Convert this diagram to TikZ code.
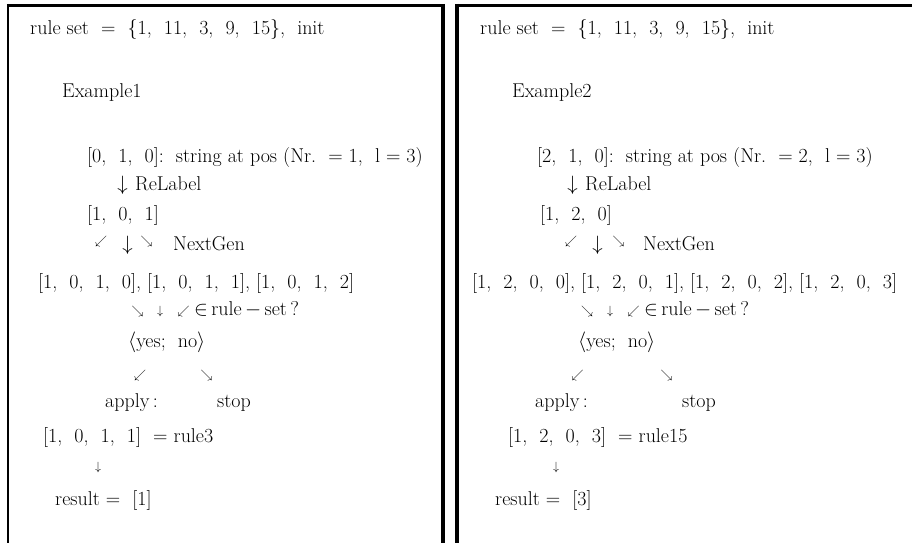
\documentclass[tikz,border=0pt]{standalone}
\usepackage{amssymb}
\tikzset{
  txt/.style={inner sep=0pt, anchor=base west, font=\fontsize{20}{24}\selectfont},
  bigarr/.style={inner sep=0pt, anchor=center, font=\fontsize{20}{24}\selectfont},
  smallarr/.style={inner sep=0pt, anchor=center, font=\fontsize{12.5}{13}\selectfont},
  frame/.style={draw=black}
}
\newcommand{\sw}{$\swarrow$}
\newcommand{\se}{$\searrow$}
\newcommand{\dn}{$\downarrow$}
\begin{document}
\begin{tikzpicture}[x=1pt,y=-1pt]
\useasboundingbox (0,0) rectangle (912,543);
% frames
\draw[frame, line width=2.5pt] (8,4) -- (8,543);
\draw[frame, line width=3pt] (6.75,5.5) -- (444.7,5.5);
\draw[frame, line width=4pt] (442.7,4) -- (442.7,543);
\draw[frame, line width=4pt] (457.3,4) -- (457.3,543);
\draw[frame, line width=3pt] (455.3,5.5) -- (912,5.5);
% ---------- left panel ----------
\node[txt] (Lrs) at (30,34.5) {rule set\ \ =\ \ \{1,\ \ 11,\ \ 3,\ \ 9,\ \ 15\},\ \ init};
\node[txt] (Lex) at (62,97) {Example1};
\node[txt] (Lstr) at (87,162) {[0,\ \ 1,\ \ 0]:\ \ string at pos (Nr.\ \ =\ 1,\ \ l = 3)};
\node[bigarr] (Lrla) at (122.5,185) {\dn};
\node[txt] (Lrl) at (135,190) {ReLabel};
\node[txt] (Lv) at (87,220) {[1,\ \ 0,\ \ 1]};
\node[smallarr] (Lng1) at (101,241) {\sw};
\node[bigarr] (Lng2) at (127.5,245) {\dn};
\node[smallarr] (Lng3) at (146.5,241) {\se};
\node[txt] (Lng) at (173,250) {NextGen};
\node[txt] (Lgen) at (38,288) {[1,\ \ 0,\ \ 1,\ \ 0],\ [1,\ \ 0,\ \ 1,\ \ 1],\ [1,\ \ 0,\ \ 1,\ \ 2]};
\node[smallarr] (Lq1) at (137.5,311) {\se};
\node[smallarr] (Lq2) at (160,311) {\dn};
\node[smallarr] (Lq3) at (183.5,311) {\sw};
\node[txt] (Lq) at (194,315) {$\in$\,rule\,$-$\,set\,?};
\node[txt] (Lyn) at (128,347) {$\langle$yes;\ \ no$\rangle$};
\node[smallarr] (Lb1) at (140,375) {\sw};
\node[smallarr] (Lb2) at (206.5,375) {\se};
\node[txt] (Lap) at (105,407) {apply\,:};
\node[txt] (Lst) at (217,407) {stop};
\node[txt] (Lru) at (43,442) {[1,\ \ 0,\ \ 1,\ \ 1]\ \ = rule3};
\node[smallarr] (Lra) at (98,467) {\dn};
\node[txt] (Lres) at (55,505) {result =\ \ [1]};
% ---------- right panel ----------
\node[txt] (Rrs) at (480,34.5) {rule set\ \ =\ \ \{1,\ \ 11,\ \ 3,\ \ 9,\ \ 15\},\ \ init};
\node[txt] (Rex) at (512,97) {Example2};
\node[txt] (Rstr) at (537,162) {[2,\ \ 1,\ \ 0]:\ \ string at pos (Nr.\ \ =\ 2,\ \ l = 3)};
\node[bigarr] (Rrla) at (572.5,185) {\dn};
\node[txt] (Rrl) at (585,190) {ReLabel};
\node[txt] (Rv) at (540,220) {[1,\ \ 2,\ \ 0]};
\node[smallarr] (Rng1) at (571,241) {\sw};
\node[bigarr] (Rng2) at (597.5,245) {\dn};
\node[smallarr] (Rng3) at (618.5,241) {\se};
\node[txt] (Rng) at (643,250) {NextGen};
\node[txt] (Rgen) at (472,288) {[1,\ \ 2,\ \ 0,\ \ 0],\ [1,\ \ 2,\ \ 0,\ \ 1],\ [1,\ \ 2,\ \ 0,\ \ 2],\ [1,\ \ 2,\ \ 0,\ \ 3]};
\node[smallarr] (Rq1) at (587,311) {\se};
\node[smallarr] (Rq2) at (610,311) {\dn};
\node[smallarr] (Rq3) at (633.5,311) {\sw};
\node[txt] (Rq) at (644,315) {$\in$\,rule\,$-$\,set\,?};
\node[txt] (Ryn) at (578,347) {$\langle$yes;\ \ no$\rangle$};
\node[smallarr] (Rb1) at (577.5,375) {\sw};
\node[smallarr] (Rb2) at (666.5,375) {\se};
\node[txt] (Rap) at (535,407) {apply\,:};
\node[txt] (Rst) at (682,407) {stop};
\node[txt] (Rru) at (508,442) {[1,\ \ 2,\ \ 0,\ \ 3]\ \ = rule15};
\node[smallarr] (Rra) at (556,467) {\dn};
\node[txt] (Rres) at (495,505) {result =\ \ [3]};
\end{tikzpicture}
\end{document}
